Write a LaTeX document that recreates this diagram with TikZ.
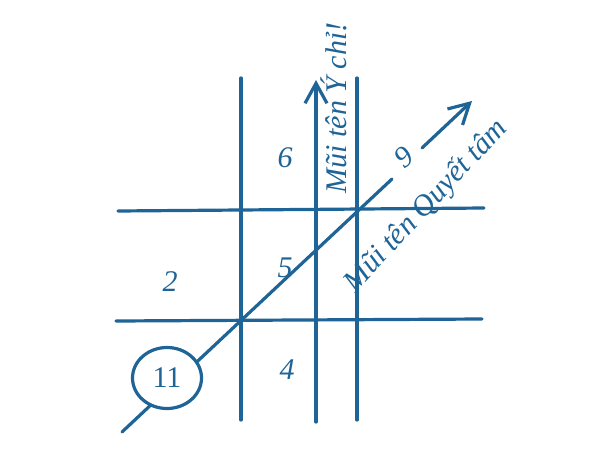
\documentclass[tikz,border=0pt]{standalone}
\usepackage{fontspec}
\setmainfont{Liberation Serif}
\usetikzlibrary{arrows.meta, shapes.geometric}
\definecolor{ink}{RGB}{30,100,150}

\begin{document}
\begin{tikzpicture}[
    x=1pt, y=-1pt,
    stroke/.style = {draw=ink, line width=3.2pt, line cap=round},
    arrow/.style = {stroke, -{Straight Barb[length=20pt, width=22pt]}},
    digit/.style = {text=ink, font=\fontsize{30}{34}\selectfont\itshape},
    note/.style = {text=ink, font=\fontsize{30}{34}\selectfont\itshape, inner sep=0pt},
    ring/.style = {ellipse, draw=ink, line width=3.2pt, fill=white,
                   minimum width=69pt, minimum height=61pt, inner sep=0pt,
                   text=ink, font=\fontsize{30}{34}\selectfont}
]
\useasboundingbox (0,0) rectangle (608,469);

% grid end points
\coordinate (colA top) at (241,78);
\coordinate (colA bot) at (241,420);
\coordinate (colB bot) at (316,422);
\coordinate (colB tip) at (316,80);
\coordinate (colC top) at (357,78);
\coordinate (colC bot) at (357,420);
\coordinate (rowA left) at (118,211);
\coordinate (rowA right) at (484,208);
\coordinate (rowB left) at (116,321);
\coordinate (rowB right) at (482,319);
\coordinate (diag start) at (122,432);
\coordinate (diag break) at (392,179);
\coordinate (diag resume) at (422,148);
\coordinate (diag tip) at (472,101);

\draw[stroke] (colA top) -- (colA bot);
\draw[stroke] (colC top) -- (colC bot);
\draw[arrow] (colB bot) -- (colB tip);
\draw[stroke] (rowA left) -- (rowA right);
\draw[stroke] (rowB left) -- (rowB right);
\draw[stroke] (diag start) -- (diag break);
\draw[arrow] (diag resume) -- (diag tip);

% numbers
\node[ring] (eleven) at (167,378) {11};
\node[digit] (six) at (285,158) {6};
\node[digit] (five) at (285,268) {5};
\node[digit] (four) at (287,370) {4};
\node[digit] (two) at (170,282) {2};
\node[digit, rotate=40] (nine) at (404,157) {9};

% arrow labels
\node[note, rotate=90] (will) at (334,108) {Mũi tên Ý chỉ!};
\node[note, rotate=47] (resolve) at (426,206) {Mũi tên Quyết tâm};

\end{tikzpicture}
\end{document}
